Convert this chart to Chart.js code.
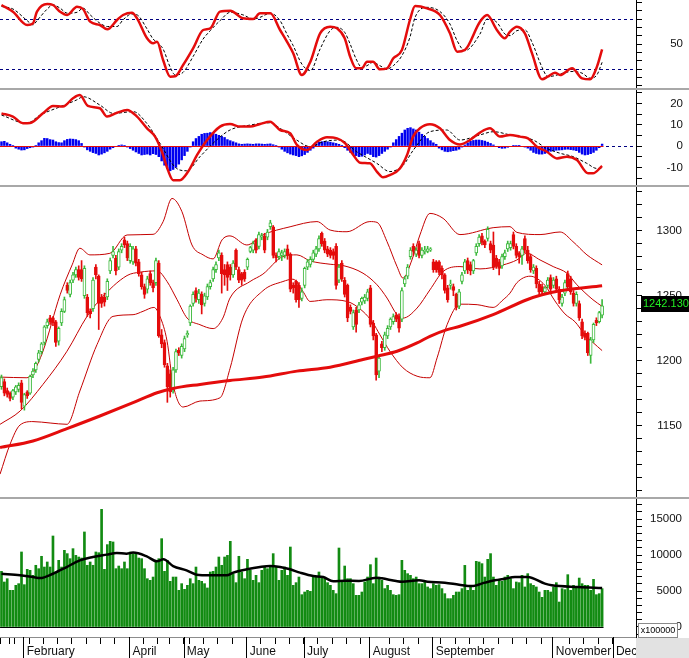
<!DOCTYPE html>
<html>
<head>
<meta charset="utf-8">
<title>VN-Index daily</title>
<script src="https://cdn.jsdelivr.net/npm/chart.js@4"></script>
<style>
  html, body { margin: 0; padding: 0; background: #fff; }
  #wrap { position: relative; width: 689px; height: 658px; overflow: hidden; }
  #wrap canvas { position: absolute; left: 0; }
  .sep { position: absolute; left: 0; width: 689px; height: 2px; background: #a8a8a8; }
</style>
</head>
<body>
<div id="wrap">
  <canvas id="stoch" width="689" height="88" style="top:0"></canvas>
  <div class="sep" style="top:88px"></div>
  <canvas id="macd" width="689" height="95" style="top:90px"></canvas>
  <div class="sep" style="top:185px"></div>
  <canvas id="price" width="689" height="310" style="top:187px"></canvas>
  <div class="sep" style="top:497px"></div>
  <canvas id="volume" width="689" height="159" style="top:499px"></canvas>
</div>
<script>
/* ---------- data (bar index 0 = 22 Jan) ---------- */
var monthStarts = [8, 45, 64, 86, 106, 129, 151, 193, 214];
var monthNames = ['February', 'April', 'May', 'June', 'July', 'August', 'September', 'November', 'Dec'];
var weekStarts = [0, 3, 5, 10, 15, 20, 25, 30, 35, 40, 50, 55, 59, 66, 71, 76, 81, 91, 96, 101,
  111, 116, 121, 126, 136, 141, 146, 154, 159, 164, 169, 174, 179, 184, 189, 199, 204, 209];

var opens = [
  1180,1184,1177,1175,1172,1176,1178,1183,1165,1176,
  1175,1189,1193,1201,1207,1214,1227,1233,1233,1230,
  1215,1229,1238,1258,1251,1262,1266,1270,1270,1250,
  1249,1238,1240,1272,1265,1249,1249,1249,1269,1281,
  1279,1272,1285,1293,1290,1277,1276,1286,1276,1266,
  1257,1255,1267,1260,1260,1275,1220,1214,1196,1190,
  1178,1193,1208,1204,1209,1220,1229,1244,1254,1247,
  1251,1244,1249,1257,1263,1270,1279,1281,1270,1274,
  1272,1266,1285,1270,1267,1268,1272,1284,1285,1293,
  1288,1295,1296,1295,1303,1303,1281,1280,1281,1281,
  1286,1282,1258,1261,1258,1248,1258,1272,1274,1278,
  1282,1286,1298,1292,1286,1285,1284,1288,1262,1275,
  1262,1258,1241,1226,1239,1239,1245,1246,1248,1256,
  1229,1220,1192,1213,1210,1219,1226,1230,1235,1234,
  1232,1259,1265,1280,1288,1282,1290,1281,1284,1284,
  1285,1276,1276,1276,1271,1266,1256,1258,1257,1251,
  1242,1261,1269,1277,1274,1269,1283,1290,1296,1292,
  1294,1290,1289,1279,1276,1273,1280,1286,1287,1297,
  1288,1283,1281,1294,1285,1280,1269,1271,1259,1257,
  1253,1258,1264,1258,1263,1255,1244,1252,1267,1263,
  1252,1244,1244,1230,1221,1221,1204,1216,1231,1230,
  1235
];
var highs = [
  1189,1186,1179,1176,1178,1181,1183,1185,1175,1177,
  1189,1194,1199,1208,1214,1227,1232,1235,1234,1231,
  1226,1240,1249,1260,1262,1268,1272,1273,1277,1273,
  1251,1240,1264,1274,1266,1251,1252,1263,1279,1288,
  1281,1286,1290,1295,1292,1290,1288,1288,1278,1268,
  1259,1265,1269,1262,1279,1277,1224,1216,1198,1193,
  1195,1209,1210,1213,1219,1223,1243,1253,1256,1255,
  1253,1252,1259,1262,1272,1276,1285,1283,1274,1276,
  1274,1277,1286,1272,1268,1270,1279,1288,1292,1294,
  1299,1298,1298,1301,1308,1304,1283,1286,1285,1286,
  1289,1283,1260,1262,1260,1256,1272,1278,1280,1285,
  1288,1296,1299,1294,1288,1287,1286,1290,1274,1277,
  1264,1259,1243,1239,1241,1245,1249,1251,1255,1258,
  1231,1221,1204,1215,1222,1227,1233,1236,1237,1236,
  1256,1265,1274,1287,1290,1287,1292,1287,1288,1288,
  1287,1278,1277,1277,1273,1267,1258,1262,1259,1252,
  1255,1268,1278,1279,1276,1278,1290,1297,1298,1293,
  1303,1292,1299,1281,1278,1282,1285,1292,1292,1299,
  1290,1284,1288,1296,1288,1282,1274,1273,1261,1259,
  1257,1264,1266,1264,1265,1257,1251,1262,1269,1265,
  1254,1253,1246,1232,1223,1222,1218,1229,1233,1238,
  1247
];
var lows = [
  1178,1173,1172,1169,1170,1174,1176,1163,1162,1171,
  1174,1187,1191,1199,1205,1212,1225,1228,1227,1211,
  1212,1227,1237,1252,1249,1260,1264,1262,1261,1248,
  1234,1233,1238,1263,1224,1241,1242,1247,1267,1279,
  1266,1270,1283,1287,1277,1275,1274,1273,1265,1255,
  1248,1252,1258,1253,1258,1218,1210,1195,1168,1172,
  1175,1191,1204,1202,1207,1218,1227,1242,1245,1244,
  1236,1242,1247,1255,1261,1268,1277,1252,1258,1254,
  1262,1264,1270,1260,1258,1261,1270,1283,1283,1283,
  1286,1293,1283,1293,1301,1279,1276,1278,1277,1279,
  1278,1253,1252,1245,1241,1246,1256,1270,1272,1276,
  1280,1284,1288,1283,1280,1279,1278,1255,1260,1261,
  1249,1230,1236,1224,1222,1237,1243,1244,1246,1226,
  1216,1185,1187,1207,1208,1217,1224,1228,1230,1222,
  1230,1257,1263,1278,1281,1280,1279,1279,1282,1283,
  1284,1268,1268,1266,1263,1252,1245,1255,1250,1239,
  1240,1259,1267,1267,1266,1267,1281,1288,1289,1287,
  1292,1283,1270,1271,1266,1271,1278,1284,1285,1286,
  1279,1275,1274,1283,1275,1268,1267,1256,1251,1251,
  1251,1256,1253,1256,1253,1244,1242,1250,1255,1251,
  1242,1242,1231,1217,1216,1204,1198,1214,1227,1229,
  1233
];
var closes = [
  1187,1175,1174,1171,1177,1180,1181,1168,1174,1173,
  1188,1192,1198,1206,1213,1226,1230,1230,1229,1214,
  1225,1238,1247,1254,1260,1266,1270,1264,1263,1271,
  1237,1236,1262,1266,1244,1244,1245,1261,1277,1284,
  1269,1284,1288,1289,1279,1288,1286,1275,1267,1257,
  1251,1263,1260,1256,1277,1219,1213,1197,1180,1176,
  1193,1207,1206,1211,1217,1221,1242,1251,1248,1252,
  1243,1250,1257,1260,1270,1274,1283,1267,1266,1264,
  1266,1275,1272,1262,1262,1263,1278,1287,1290,1285,
  1297,1296,1285,1299,1306,1281,1279,1284,1283,1284,
  1281,1255,1256,1247,1247,1253,1271,1276,1278,1283,
  1286,1294,1290,1285,1282,1281,1281,1258,1272,1263,
  1251,1233,1238,1237,1228,1243,1248,1249,1253,1228,
  1219,1189,1202,1210,1220,1225,1232,1234,1232,1225,
  1254,1263,1272,1285,1284,1285,1281,1285,1285,1286,
  1286,1270,1270,1268,1266,1254,1247,1259,1254,1241,
  1253,1266,1276,1270,1269,1277,1288,1295,1291,1289,
  1301,1285,1272,1273,1271,1280,1283,1290,1290,1288,
  1281,1280,1286,1285,1277,1270,1272,1259,1253,1253,
  1256,1262,1255,1262,1255,1247,1249,1260,1257,1253,
  1244,1251,1233,1219,1218,1206,1216,1228,1229,1237,
  1242.13
];
// volume, x100000
var volumes = [
  7730,6250,6710,5090,5090,5790,6020,10420,5880,8010,
  7870,7180,8570,8100,9820,8330,9030,8330,12640,7640,
  9260,8330,10650,10190,9490,10880,9950,9720,9580,13200,
  8570,9030,8570,10420,10320,16340,8010,11440,11900,11810,
  8100,8470,8100,9030,8100,10420,10190,10190,9580,9490,
  8100,6710,6480,6940,9260,9490,12270,7730,9260,6340,
  6940,6940,5090,6020,5230,5790,6710,6020,8330,6480,
  6340,6020,5420,7640,7730,8330,9720,8570,9720,9950,
  11900,7410,6160,9820,7640,6710,9400,7870,6480,7180,
  6160,7870,8330,8100,8330,10190,8330,6480,7870,8330,
  7180,11110,5790,6160,6940,4490,4860,5090,4950,6940,
  6940,7640,6940,6710,6160,5790,5090,4630,10970,6480,
  8470,6710,6710,6020,4400,4400,4860,6250,6940,8660,
  6020,9580,6940,6480,5330,5790,5090,4490,4400,4490,
  9260,7870,7410,7180,6710,6940,6020,6020,6250,5560,
  5330,6020,5790,5880,5330,4630,3940,3940,4400,4860,
  4860,5330,8560,5090,5530,5090,9120,9030,8800,6940,
  9400,10190,6940,5790,6480,6340,6940,7180,6710,5330,
  6250,6160,7180,5560,7410,6020,5790,5560,4860,4120,
  5090,5090,4860,5560,6160,3470,5330,5190,7270,5090,
  5790,5560,6800,6020,5790,5790,5090,6620,4490,4630,
  5330
];
var macdHist = [
  2,2.2,1.5,0.8,0.2,-1,-1.5,-1.9,-1.8,-1.2,
  -0.8,-0.5,0.2,1.5,2.5,3.6,3.5,3,2.8,2,
  1.6,1.5,2.5,3.1,3.3,3.2,3,2.5,1.2,-0.5,
  -1.8,-2.5,-3.1,-3.5,-4.2,-3.8,-3.2,-2.5,-1.5,-0.8,
  -0.3,0.3,0.5,0.3,-0.5,-1.2,-2,-2.8,-3.5,-4.2,
  -4,-3.8,-4.2,-3.6,-4,-5,-7,-9,-10.5,-11.6,
  -11,-10,-8.5,-6.5,-4.5,-2.5,-0.5,2,3.5,4.5,
  5.5,5.9,6,6.3,6,5.5,5,4.5,4,3,
  2.5,2,1.5,1,0.8,0.9,1,0.9,0.8,1,
  1,0.9,0.8,0.9,1,0.6,0.2,-0.5,-1.5,-2.5,
  -3.2,-3.8,-4.2,-4.5,-5,-4.6,-4,-3,-2,-1,
  1,1.8,2,2.2,2,1.8,1.5,1.2,0.8,0.3,
  -0.8,-2,-3,-4,-4.5,-5,-4.8,-4.2,-3.5,-4,
  -5,-5.2,-4.5,-3.5,-2.5,-1.5,-0.5,1.5,3,4.5,
  6,7.5,8.3,8.6,8,7.5,6.5,5.5,4.5,3.5,
  2.5,1.5,0.8,-1,-1.8,-2.5,-2.7,-2.5,-2.2,-2,
  -1.5,-0.5,0.5,1.5,2.2,2.6,2.8,2.8,2.6,2.3,
  1.8,1.2,0.5,-0.3,-0.8,-1.1,-1,-0.6,-0.2,0.1,
  0.2,0.1,-0.2,-0.5,-1,-2,-3,-3.5,-3.8,-3.8,
  -3.5,-3,-2.5,-2.2,-2,-1.9,-1.8,-1.6,-1.5,-1.7,
  -1.9,-2.2,-3,-3.8,-4.2,-4,-3.6,-3,-2,-0.8,
  0.9
];

// indicator lines, read at the bar positions listed in the matching *X arrays
var stochX = [0,4,9,11,12.4,16,18,20.5,23,26.4,28.5,31,34.4,37,40.4,42.5,45.6,47.4,50.9,53,
  54.4,56.5,59,60.7,63.5,67,70.5,73,76.4,80,84.4,88,90.4,94,97.4,99.8,102,105,108,111.4,
  114.9,117.3,120,121.9,124,126,127.8,129.9,132.3,134.8,137,140,142.8,144.6,148.8,153.3,156.8,159.3,162,167.3,
  169.8,173.2,176,177.8,180.2,183,185.5,189,191,193.5,195.3,199.5,203,205.8,208.2,210];
var stochK = [96.8,88.8,72.8,74.8,88.8,98,96.8,88.8,84.8,94.8,92,76.8,72.8,67.6,78.8,84.8,87.6,80.8,56.8,50.8,
  52.8,30.8,10.8,11.2,24.8,44.8,66.8,68.8,88.8,90,80.8,80,86.8,86.8,66.8,52.8,38.8,12.8,28.8,62.8,
  70.8,68.8,56.8,34.8,20.8,20.8,28.8,28.8,19.6,20.8,32.8,42.8,78.8,95.6,92.8,84.8,62.8,40.8,42.8,76.8,
  84.8,66.8,56.8,64.8,70.8,62.8,38.8,7.6,10.8,15.6,12.8,20.8,8.8,7.6,22.8,43.6];
var stochD = [95,92,78,73,78,92,97,93,87,88,93,85,75,71,71,79,86,85,68,56,
  52,44,22,13,16,35,56,66,78,88,85,80,82,87,78,62,48,26,18,44,
  66,70,64,50,32,22,24,28,24,20,24,36,58,82,94,89,74,54,42,62,
  80,76,62,60,66,67,52,22,11,12,14,17,15,9,13,28];
var stochLevels = [80, 20];

var macdX = [0,4,7.5,10,14.5,18,21.5,25,27.4,30.2,34.4,36.9,40.4,43.9,47.4,50.9,53.7,56.1,58.2,60,
  62.4,65.2,68.4,71.9,76.4,79.9,83.4,86.9,90.4,93.9,97.4,100.9,103.3,106.8,110.3,113.8,117.3,120.1,123,125.4,
  128.8,131.3,133.4,135.8,139.3,141.8,143.9,146.3,149.8,153.3,156.8,160.3,163.8,167.3,170.8,174.3,177.8,181.3,184.1,187.2,
  190.7,194.2,197.7,201.2,205.1,206.8,210];
var macdLine = [15.3,13.8,10.7,10.8,15.3,18.8,18.5,22.4,23.9,18.8,17.7,13.8,15.6,16.9,13.8,8.3,4.4,-2.7,-11.3,-16,
  -16,-12.1,-4.2,2.8,9.1,10.3,9.1,9.1,10.3,11.4,7.5,6,0.5,-1.9,2,4.1,3.6,1.3,-4.2,-7.8,
  -8.1,-12.1,-14.7,-13.6,-10.5,-4.2,4.4,8.3,10.2,8.3,2.8,0.7,2.8,6.3,8.3,4.4,5.2,4.4,3.6,-0.3,
  -2.7,-5.8,-5,-6.6,-12.8,-12.8,-9.4];
var signalX = [0,8.8,13.5,20.5,26.3,28.6,34.4,39.1,46.1,50.8,55.4,61.2,64.7,69.4,75.2,79.9,86.9,93.9,97.4,103.2,
  107.9,112.5,118.4,124.2,131.2,135.8,140.5,144,149.8,155.7,160.3,167.3,172,177.8,185.9,190.6,195.3,199.9,204.6,208.1,210];
var signalLine = [14.5,10.6,14.5,18.4,21.6,23.1,19.2,15.3,16.1,10.6,1.3,-10.5,-11.6,-5,2.8,7.5,9.8,10.9,8.3,2.8,
  -0.3,2,2.8,-2.7,-8.1,-12,-8.9,-1.9,6.7,7.5,2.8,5.2,6.7,5.2,2.8,-1.1,-3.4,-5,-8.1,-10.5,-10.5];

var bbUpX = [-0.5,8.9,11,14.5,20.5,24.7,27.4,30.9,37.9,43.9,53,56.5,59.6,63.1,66.6,70.5,74,77.1,79.9,85.8,
  91.4,100.9,110.3,114.9,120.8,128.8,131.3,134.8,138.3,140.4,143.5,146.3,149.8,154.4,160.3,171.9,177.8,180.2,188.3,195.3,
  199.8,204.7,210];
var bbUp = [1187.4,1186.9,1190.7,1207.3,1250.7,1273.7,1286.5,1281.4,1282.6,1296.7,1297.2,1306.9,1324.8,1314.6,1289,1281.4,1278.3,1292.9,1296,1289,
  1296.7,1303,1307,1300.5,1299.2,1307,1306.4,1291.6,1272.4,1263.5,1277.5,1296.7,1313.3,1309.5,1297,1302.3,1303.1,1298.7,1297,1299,
  1291.6,1281.4,1273.7];
var bbMidX = [-0.5,6.5,14.5,22.9,29.9,34.4,43.9,48.4,54.4,57.9,61.4,64.9,69.4,74,77.4,79.9,86.9,91.4,98.4,103.3,
  107.9,114.9,119.4,126.4,131.3,134.8,138.3,140.4,145.3,149.8,154.4,160.3,167.3,175.4,180.2,183.7,188.3,192.9,197.7,201.2,
  206.8,210];
var bbMid = [1151.1,1161.3,1181.8,1207.3,1234.1,1246.9,1265.5,1268.1,1269.1,1260.9,1246.9,1232.8,1227.7,1224.7,1232.8,1248.2,1260.9,1266.6,1280.1,1281.4,
  1276.8,1274.2,1273.2,1267.3,1258.4,1248.2,1235.4,1232.8,1240.5,1254.5,1268.6,1272.4,1270.6,1273.7,1277.5,1282.6,1277.5,1272.4,1267.3,1258.4,
  1246.9,1241.8];
var bbLowX = [-0.5,3,6.5,11,17,22.9,27.4,33.4,39,46,49.5,53.3,55.4,57.9,60,63.5,69.4,76.4,79.9,84.4,
  91.4,98.4,101.9,105.4,107.9,113.8,120.8,126.4,129.9,132.3,135.8,140.4,145.3,149.8,152.3,155.8,160.3,166.3,171.9,175.4,
  177.8,180.2,184.8,190,193.5,197,200.5,204,206.8,210];
var bbLow = [1112.8,1135.8,1150.6,1153.2,1152.1,1151.1,1176.7,1212.4,1234.1,1235.4,1238,1241,1234.1,1215,1181.8,1164.4,1169,1171.5,1194,1232.8,
  1253.8,1260.9,1262.7,1253.3,1245.6,1246.9,1245.6,1237.9,1229,1220,1207.3,1194.5,1188.1,1186.9,1202.2,1227.7,1243.5,1243.1,1241,1246.9,
  1252,1260,1265,1258,1246,1236,1230,1220,1214,1207.8];
var ma200X = [-0.5,11,22.9,34.4,46,54.4,60,69.4,79.9,91.4,103.3,114.9,126.4,131.3,138.3,145.3,149.8,155.8,160.3,171.9,
  183.7,189,195.3,210];
var ma200 = [1133.2,1138.3,1147.8,1157.5,1167.7,1175.4,1178.7,1181.8,1184.8,1187.4,1192,1195,1200.9,1203.5,1207.3,1213.7,1218.8,1223.9,1226.5,1235.4,
  1246.9,1250.7,1253.8,1257.6];
var volMaX = [0,6.5,11,13.5,18,22.8,27.4,32,36.8,40.3,43.7,46,50.8,54.3,56.6,60,64.7,68.2,72.9,78.8,
  81,85.8,90.4,93.9,97.4,100.9,104.4,109,112.5,116,120,125,131,133,138,140,146,149,155,160,
  164.4,169,172.5,176,179.5,184,190,192.4,201.7,210];
var volMa = [7400,7180,6940,6800,7400,8330,9260,9720,10050,10280,10190,10330,9810,9120,9400,8470,7870,7270,7180,7180,
  7550,8010,8330,8470,8330,8010,7550,7080,6940,6340,6430,6390,6850,6760,6390,6300,6480,6300,6160,5880,
  5690,6160,6480,6710,6940,6940,6020,5790,5560,5420];

/* ---------- styling ---------- */
var RED = '#e40c0c';
var BAND = '#c40000';
var UP = '#3cb93c';
var VOL = '#128b12';
var FONT = "'Liberation Sans', Arial, sans-serif";
var X_MIN = -0.52, X_MAX = 221.85;
var PLOT_RIGHT = 636, CANVAS_W = 689;

function pairs(xs, ys) {
  return xs.map(function (x, k) { return { x: x, y: ys[k] }; });
}

function hiddenX() {
  return { type: 'linear', min: X_MIN, max: X_MAX, bounds: 'data', display: false, offset: false, grid: { offset: false } };
}

// labels are right-aligned at x = edge
function rightAxis(min, max, step, labels, edge) {
  return {
    position: 'right', min: min, max: max, bounds: 'data',
    afterBuildTicks: function (s) {
      var t = [];
      for (var k = Math.ceil(min / step); k * step <= max; k++) t.push({ value: k * step });
      s.ticks = t;
    },
    afterFit: function (s) { s.width = edge - PLOT_RIGHT; s.paddingTop = 0; s.paddingBottom = 0; },
    border: { display: true, color: '#000' },
    grid: { drawOnChartArea: false, drawTicks: true, tickLength: 6, color: '#000' },
    ticks: {
      autoSkip: false, crossAlign: 'far', padding: 2, color: '#111',
      font: { family: FONT, size: 11.5 },
      callback: function (v) { return labels.indexOf(v) >= 0 ? String(v) : ''; }
    }
  };
}

function options(y, edge, x) {
  return {
    responsive: false, animation: false, events: [],
    layout: { padding: { left: 0, top: 0, bottom: 0, right: CANVAS_W - edge } },
    plugins: { legend: { display: false }, tooltip: { enabled: false } },
    scales: { x: x || hiddenX(), y: y }
  };
}

function lineSet(xs, ys, color, width, dash, order) {
  return {
    type: 'line', data: pairs(xs, ys), borderColor: color, borderWidth: width,
    borderDash: dash || [], pointRadius: 0, cubicInterpolationMode: 'monotone', order: order
  };
}

/* ---------- stochastic ---------- */
var stochGuides = {
  id: 'stochGuides',
  beforeDatasetsDraw: function (chart) {
    var ctx = chart.ctx, a = chart.chartArea, y = chart.scales.y;
    ctx.save();
    ctx.strokeStyle = '#000080'; ctx.lineWidth = 1; ctx.setLineDash([3, 3]);
    stochLevels.forEach(function (v) {
      var py = Math.round(y.getPixelForValue(v)) + 0.5;
      ctx.beginPath(); ctx.moveTo(a.left, py); ctx.lineTo(a.right, py); ctx.stroke();
    });
    ctx.restore();
  }
};

new Chart(document.getElementById('stoch'), {
  type: 'line',
  data: { datasets: [
    lineSet(stochX, stochK, RED, 2.5, null, 0),
    lineSet(stochX, stochD, '#000', 1, [3, 2], 1)
  ] },
  options: options(rightAxis(-2.8, 102.8, 10, [50], 683), 683),
  plugins: [stochGuides]
});

/* ---------- MACD ---------- */
var macdZero = {
  id: 'macdZero',
  beforeDatasetsDraw: function (chart) {
    var ctx = chart.ctx, a = chart.chartArea;
    var py = Math.round(chart.scales.y.getPixelForValue(0)) + 0.5;
    ctx.save();
    ctx.strokeStyle = '#000080'; ctx.lineWidth = 1; ctx.setLineDash([3, 3]);
    ctx.beginPath(); ctx.moveTo(a.left, py); ctx.lineTo(a.right, py); ctx.stroke();
    ctx.restore();
  },
  afterDatasetsDraw: function (chart) {
    var ctx = chart.ctx, x = chart.scales.x;
    var py = Math.round(chart.scales.y.getPixelForValue(0)) + 0.5;
    ctx.save();
    ctx.strokeStyle = RED; ctx.lineWidth = 1;
    ctx.beginPath(); ctx.moveTo(x.getPixelForValue(-0.5), py); ctx.lineTo(x.getPixelForValue(macdHist.length - 0.5), py); ctx.stroke();
    ctx.restore();
  }
};

new Chart(document.getElementById('macd'), {
  type: 'bar',
  data: { datasets: [
    lineSet(macdX, macdLine, RED, 2.5, null, 0),
    lineSet(signalX, signalLine, '#000', 1, [3, 2], 1),
    {
      type: 'bar', data: macdHist.map(function (v, i) { return { x: i, y: v }; }),
      backgroundColor: '#0000f0', barThickness: 1.8, grouped: false, order: 2
    }
  ] },
  options: options(rightAxis(-18.28, 26.25, 5, [20, 10, 0, -10], 683), 683),
  plugins: [macdZero]
});

/* ---------- price ---------- */
var isUp = closes.map(function (c, i) { return c >= opens[i]; });

var lastPrice = {
  id: 'lastPrice',
  afterDraw: function (chart) {
    var ctx = chart.ctx;
    var last = closes[closes.length - 1];
    var py = chart.scales.y.getPixelForValue(last);
    ctx.save();
    ctx.fillStyle = '#000';
    ctx.fillRect(641, Math.round(py) - 10, 48, 16);
    ctx.fillStyle = '#22ee22';
    ctx.font = '11px ' + FONT;
    ctx.textAlign = 'left'; ctx.textBaseline = 'middle';
    ctx.fillText(last.toFixed(3), 643, Math.round(py) - 2);
    ctx.restore();
  }
};

new Chart(document.getElementById('price'), {
  type: 'bar',
  data: { datasets: [
    lineSet(ma200X, ma200, RED, 3, null, 1),
    lineSet(bbUpX, bbUp, BAND, 1, null, 5),
    lineSet(bbMidX, bbMid, BAND, 1, null, 5),
    lineSet(bbLowX, bbLow, BAND, 1, null, 5),
    {
      type: 'bar', data: lows.map(function (l, i) { return { x: i, y: [l, highs[i]] }; }),
      backgroundColor: function (c) { return isUp[c.dataIndex] ? UP : RED; },
      barThickness: 1, grouped: false, order: 3
    },
    {
      type: 'bar', data: opens.map(function (o, i) { return { x: i, y: [o, closes[i]] }; }),
      backgroundColor: function (c) { return isUp[c.dataIndex] ? '#fff' : RED; },
      borderColor: function (c) { return isUp[c.dataIndex] ? UP : RED; },
      borderWidth: 1, borderSkipped: false, minBarLength: 1,
      barThickness: 3, grouped: false, order: 2
    }
  ] },
  options: options(rightAxis(1095.2, 1333.6, 10, [1150, 1200, 1250, 1300], 682), 682),
  plugins: [lastPrice]
});

/* ---------- volume + month axis ---------- */
var volumeDecor = {
  id: 'volumeDecor',
  afterDatasetsDraw: function (chart) {
    var ctx = chart.ctx, x = chart.scales.x;
    var py = Math.round(chart.scales.y.getPixelForValue(0)) + 0.5;
    ctx.save();
    ctx.strokeStyle = '#000'; ctx.lineWidth = 1;
    ctx.beginPath(); ctx.moveTo(x.getPixelForValue(-0.5), py); ctx.lineTo(x.getPixelForValue(volumes.length - 0.5), py); ctx.stroke();
    ctx.restore();
  },
  afterDraw: function (chart) {
    var ctx = chart.ctx, a = chart.chartArea, x = chart.scales.x;
    ctx.save();
    ctx.strokeStyle = '#000'; ctx.lineWidth = 1;
    monthStarts.forEach(function (m) {
      var px = Math.round(x.getPixelForValue(m - 0.35)) + 0.5;
      ctx.beginPath(); ctx.moveTo(px, a.bottom); ctx.lineTo(px, chart.height); ctx.stroke();
    });
    ctx.fillStyle = '#e2e2e2';
    ctx.fillRect(a.right, a.bottom + 1, chart.width - a.right, chart.height - a.bottom);
    // unit box
    ctx.fillStyle = '#fff';
    ctx.fillRect(638.5, 124.5, 39, 14);
    ctx.strokeStyle = '#8a8a8a';
    ctx.strokeRect(638.5, 124.5, 39, 14);
    ctx.fillStyle = '#000';
    ctx.font = '9px ' + FONT;
    ctx.textAlign = 'center'; ctx.textBaseline = 'middle';
    ctx.fillText('x100000', 658, 132);
    ctx.restore();
  }
};

var monthAxis = {
  type: 'linear', min: X_MIN, max: X_MAX, bounds: 'data', position: 'bottom', offset: false,
  afterBuildTicks: function (s) {
    s.ticks = monthStarts.concat(weekStarts).sort(function (a, b) { return a - b; })
      .map(function (v) { return { value: v - 0.35 }; });
  },
  afterFit: function (s) { s.height = 21; s.paddingLeft = 0; s.paddingRight = 0; },
  border: { display: true, color: '#8c8c8c' },
  grid: { offset: false, drawOnChartArea: false, drawTicks: true, tickLength: 7, color: '#000' },
  ticks: {
    autoSkip: false, maxRotation: 0, minRotation: 0, align: 'start', padding: 0, color: '#111',
    font: { family: FONT, size: 12 },
    callback: function (v) {
      var k = monthStarts.indexOf(Math.round(v + 0.35));
      return k >= 0 ? ' ' + monthNames[k] : '';
    }
  }
};

new Chart(document.getElementById('volume'), {
  type: 'bar',
  data: { datasets: [
    lineSet(volMaX, volMa, '#000', 2.5, null, 0),
    {
      type: 'bar', data: volumes.map(function (v, i) { return { x: i, y: v }; }),
      backgroundColor: VOL, barThickness: 2, grouped: false, order: 1
    }
  ] },
  options: options(rightAxis(-1389, 17778, 1000, [0, 5000, 10000, 15000], 682), 682, monthAxis),
  plugins: [volumeDecor]
});
</script>
</body>
</html>
